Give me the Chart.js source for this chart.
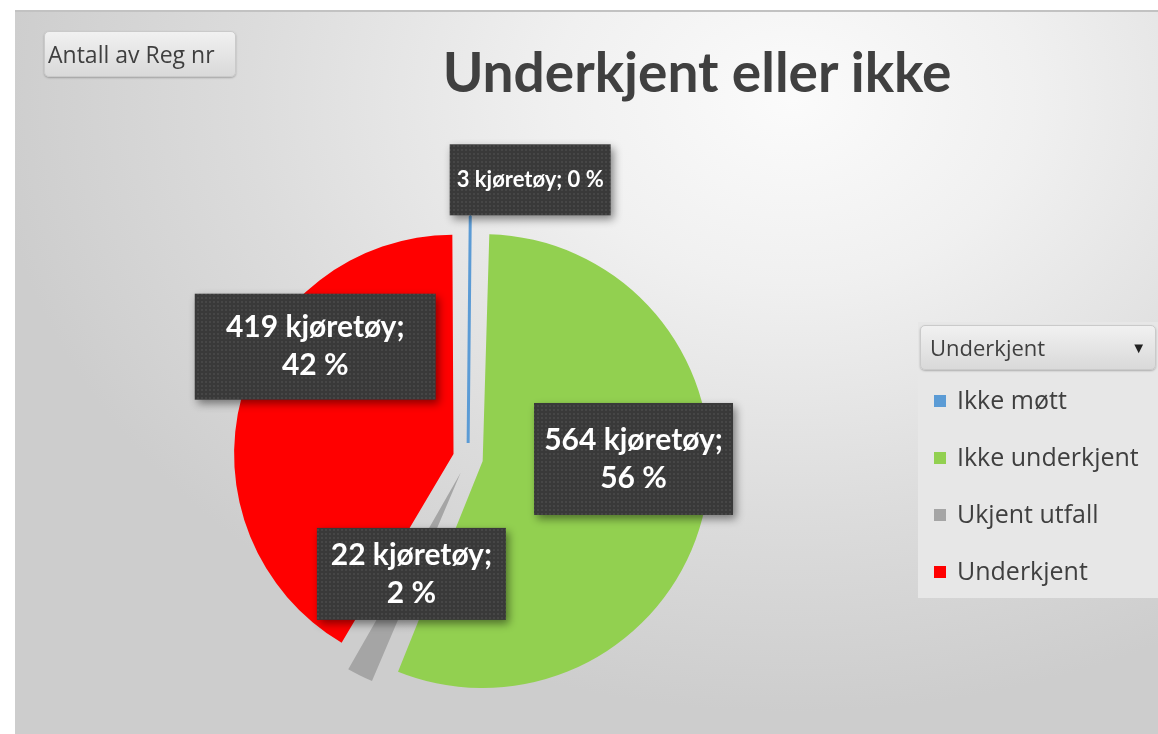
<!DOCTYPE html>
<html>
<head>
<meta charset="utf-8">
<script src="https://cdn.jsdelivr.net/npm/chart.js@4.4.1/dist/chart.umd.min.js"></script>
<style>
  html, body { margin: 0; padding: 0; background: #fff; }
  #wrap { position: relative; width: 1158px; height: 734px; overflow: hidden; }
  #frame {
    position: absolute; left: 15px; top: 10px; right: 0; bottom: 0;
    border-top: 2px solid #c2c2c2;
    background: radial-gradient(ellipse 70% 85% at 68% 12%, #fbfbfb 0%, #f0f0f0 30%, #dcdcdc 68%, #cdcdcd 100%);
  }
  #chart { position: absolute; left: 0; top: 0; }
  .btn {
    position: absolute; box-sizing: border-box;
    border: 1px solid #cacaca; border-radius: 5px;
    background: linear-gradient(#f1f1f1, #d9d9d9);
    box-shadow: 0 1px 2px rgba(0,0,0,0.25);
    font-family: "Open Sans", sans-serif; color: #3f3f3f;
    white-space: nowrap;
  }
  #fieldBtn { left: 44px; top: 31px; width: 192px; height: 46px; font-size: 23px; line-height: 44px; padding-left: 3px; }
  #title {
    position: absolute; left: 397px; top: 44px; width: 600px; text-align: center;
    font-family: Lato, sans-serif; font-weight: bold; font-size: 55px; line-height: 55px; color: #404040;
  }
  #legend {
    position: absolute; left: 918px; top: 322px; width: 240px; height: 276px;
    background: #e7e7e7;
  }
  #legendHead { left: 2px; top: 3px; width: 236px; height: 45px; font-size: 22px; line-height: 43px; padding-left: 9px; }
  #legendHead span { position: absolute; right: 9px; top: 0; font-size: 15px; color: #222; }
  .item {
    position: absolute; left: 16px; height: 57px; line-height: 57px;
    font-family: "Open Sans", sans-serif; font-size: 25px; color: #3f3f3f; white-space: nowrap;
  }
  .item i { display: inline-block; width: 12px; height: 12px; margin-right: 11px; vertical-align: 2px; }
</style>
</head>
<body>
<div id="wrap">
  <div id="frame"></div>
  <canvas id="chart" width="1158" height="734"></canvas>
  <div id="fieldBtn" class="btn"></div>
  <div id="title"></div>
  <div id="legend">
    <div id="legendHead" class="btn"></div>
  </div>
</div>
<script>
const categories = ['Ikke møtt', 'Ikke underkjent', 'Ukjent utfall', 'Underkjent'];
const vehicleCounts = [3, 564, 22, 419];
const sliceColors = ['#5b9bd5', '#92d050', '#a5a5a5', '#ff0000'];
const unitLabel = 'kjøretøy';
const chartTitle = 'Underkjent eller ikke';
const fieldButton = 'Antall av Reg nr';
const legendHeader = 'Underkjent';

// label placement tweaks (px from the slice's mid point), box sizes, fonts
const labelNudge = [[61, -151], [41, -25], [0, 2], [-30, -78]];
const labelBox = [[161, 71], [199, 112], [189, 92], [241, 106]];
const labelFont = [22, 30, 30, 30];
const labelOneLine = [true, false, false, false];

document.getElementById('title').textContent = chartTitle;
document.getElementById('fieldBtn').textContent = fieldButton;
document.getElementById('legendHead').innerHTML = legendHeader + '<span>&#9660;</span>';
const legend = document.getElementById('legend');
categories.forEach(function(name, i) {
    const row = document.createElement('div');
    row.className = 'item';
    row.style.top = (49 + i * 57) + 'px';
    row.innerHTML = '<i style="background:' + sliceColors[i] + '"></i>' + name;
    legend.appendChild(row);
});

// small dotted texture like the Excel label fill
const tex = document.createElement('canvas');
tex.width = 4; tex.height = 4;
const tctx = tex.getContext('2d');
tctx.fillStyle = '#393939';
tctx.fillRect(0, 0, 4, 4);
tctx.fillStyle = '#464646';
tctx.fillRect(1, 1, 2, 2);

const dataLabels = {
    id: 'dataLabels',
    afterDatasetsDraw(chart) {
        const ctx = chart.ctx;
        const meta = chart.getDatasetMeta(0);
        const total = vehicleCounts.reduce((a, b) => a + b, 0);
        const pattern = ctx.createPattern(tex, 'repeat');
        meta.data.forEach(function(arc, i) {
            const mid = (arc.startAngle + arc.endAngle) / 2;
            const r = arc.outerRadius * 0.6;
            const x = arc.x + Math.cos(mid) * r + labelNudge[i][0];
            const y = arc.y + Math.sin(mid) * r + labelNudge[i][1];
            const w = labelBox[i][0], h = labelBox[i][1];
            const pct = Math.round(vehicleCounts[i] / total * 100);
            const first = vehicleCounts[i] + ' ' + unitLabel + ';';
            const second = pct + ' %';

            ctx.save();
            ctx.shadowColor = 'rgba(0,0,0,0.45)';
            ctx.shadowBlur = 8;
            ctx.shadowOffsetX = 3;
            ctx.shadowOffsetY = 4;
            ctx.fillStyle = pattern;
            ctx.fillRect(x - w / 2, y - h / 2, w, h);
            ctx.restore();

            ctx.save();
            ctx.fillStyle = '#ffffff';
            ctx.font = 'bold ' + labelFont[i] + 'px Lato';
            ctx.textAlign = 'center';
            ctx.textBaseline = 'middle';
            if (labelOneLine[i]) {
                ctx.fillText(first + ' ' + second, x, y);
            } else {
                ctx.fillText(first, x, y - 19);
                ctx.fillText(second, x, y + 19);
            }
            ctx.restore();
        });
    }
};

const ctx = document.getElementById('chart').getContext('2d');
new Chart(ctx, {
    type: 'pie',
    data: {
        labels: categories,
        datasets: [{
            data: vehicleCounts,
            backgroundColor: sliceColors,
            borderColor: sliceColors,
            borderWidth: [3, 0, 0, 0],
            offset: [60, 60, 66, 60],
            clip: false
        }]
    },
    options: {
        responsive: false,
        animation: false,
        radius: 212,
        layout: { padding: { left: 238, right: 460, top: 228, bottom: 46 } },
        plugins: {
            legend: { display: false },
            title: { display: false },
            tooltip: { enabled: false }
        }
    },
    plugins: [dataLabels]
});
</script>
</body>
</html>
